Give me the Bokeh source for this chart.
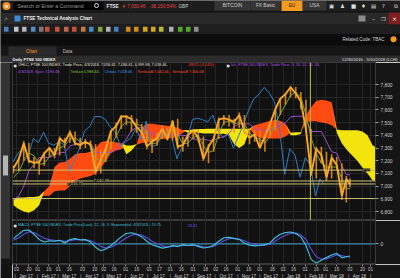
import numpy as np
import pandas as pd
from bokeh.plotting import figure
from bokeh.layouts import column, row
from bokeh.models import (Range1d, FixedTicker, NumeralTickFormatter, DatetimeTickFormatter,
                          DatetimeAxis, Label, Span, Grid)
from bokeh.core.properties import value
from bokeh.embed import file_html
from bokeh.resources import INLINE

FONT = "Liberation Sans"
SYM = "DejaVu Sans"

# ---------------- values (weekly samples) ----------------
price_dates = pd.DatetimeIndex(list(pd.date_range("2016-12-30", periods=65, freq="7D"))
                               + [pd.Timestamp("2018-03-29"), pd.Timestamp("2018-04-03")])
close = [7143, 7210, 7338, 7198, 7184, 7188, 7258, 7300, 7244, 7374,
         7343, 7425, 7337, 7323, 7349, 7327, 7115, 7204, 7297, 7435,
         7471, 7548, 7548, 7527, 7464, 7424, 7313, 7350, 7378, 7453,
         7368, 7511, 7310, 7324, 7401, 7438, 7378, 7215, 7311, 7373,
         7523, 7535, 7523, 7505, 7560, 7433, 7380, 7409, 7300, 7394,
         7490, 7603, 7688, 7724, 7778, 7731, 7666, 7443, 7092, 7294,
         7244, 7070, 7224, 7164, 6922, 7057, 7018]
high = [7160, 7220, 7355, 7340, 7230, 7210, 7270, 7310, 7300, 7390,
        7380, 7440, 7430, 7380, 7370, 7360, 7330, 7290, 7300, 7440,
        7500, 7560, 7560, 7560, 7530, 7490, 7440, 7380, 7420, 7480,
        7460, 7520, 7530, 7390, 7420, 7450, 7450, 7390, 7330, 7380,
        7540, 7560, 7560, 7530, 7580, 7560, 7440, 7440, 7440, 7400,
        7500, 7610, 7690, 7730, 7790, 7780, 7740, 7680, 7450, 7310,
        7310, 7270, 7250, 7230, 7180, 7080, 7060]
low = [7100, 7120, 7200, 7180, 7140, 7090, 7160, 7230, 7220, 7240,
       7300, 7340, 7320, 7290, 7300, 7310, 7090, 7100, 7190, 7290,
       7380, 7450, 7480, 7430, 7420, 7410, 7290, 7260, 7320, 7370,
       7360, 7360, 7290, 7270, 7310, 7370, 7350, 7200, 7180, 7270,
       7370, 7480, 7470, 7420, 7460, 7410, 7330, 7350, 7300, 7270,
       7380, 7440, 7560, 7640, 7700, 7690, 7610, 7430, 7080, 7060,
       7180, 7040, 7060, 7130, 6890, 6870, 6990]
chikou = [7188, 7258, 7300, 7244, 7374, 7343, 7425, 7337, 7323, 7349,
          7327, 7115, 7204, 7297, 7435, 7471, 7548, 7548, 7527, 7464,
          7424, 7313, 7350, 7378, 7453, 7368, 7511, 7310, 7324, 7401,
          7438, 7378, 7215, 7311, 7373, 7523, 7535, 7523, 7505, 7560,
          7433, 7380, 7409, 7300, 7394, 7490, 7603, 7688, 7724, 7778,
          7731, 7666, 7443, 7092, 7294, 7244, 7070, 7224, 7164, 6922,
          7057, 7018]
tenkan = [7070, 7110, 7200, 7260, 7240, 7170, 7180, 7230, 7265, 7300,
          7320, 7370, 7380, 7350, 7335, 7335, 7220, 7200, 7200, 7320,
          7390, 7470, 7505, 7500, 7490, 7470, 7400, 7335, 7340, 7400,
          7410, 7440, 7410, 7330, 7340, 7380, 7400, 7320, 7265, 7280,
          7410, 7500, 7515, 7490, 7500, 7490, 7420, 7385, 7370, 7340,
          7390, 7490, 7570, 7640, 7715, 7740, 7700, 7560, 7380, 7260,
          7180, 7150, 7150, 7150, 7060, 6980, 6980]
kijun = [6890, 6920, 7000, 7120, 7170, 7225, 7225, 7225, 7245, 7265,
         7265, 7315, 7330, 7340, 7340, 7340, 7265, 7265, 7265, 7265,
         7290, 7325, 7370, 7440, 7460, 7460, 7430, 7410, 7410, 7410,
         7410, 7400, 7400, 7400, 7395, 7370, 7370, 7370, 7360, 7360,
         7380, 7390, 7415, 7470, 7490, 7490, 7490, 7455, 7440, 7440,
         7440, 7455, 7480, 7500, 7545, 7550, 7550, 7530, 7430, 7430,
         7430, 7350, 7270, 7260, 7160, 7090, 7090]
cloud_dates = pd.date_range("2016-12-30", periods=72, freq="7D")
senkou_a = [6850, 6820, 6800, 6790, 6810, 6850, 6960, 7000, 7150, 7185,
            7190, 7215, 7250, 7260, 7260, 7270, 7300, 7345, 7355, 7350,
            7345, 7335, 7250, 7280, 7330, 7460, 7490, 7490, 7485, 7480,
            7475, 7470, 7460, 7440, 7420, 7430, 7420, 7415, 7415, 7415,
            7410, 7412, 7400, 7330, 7300, 7330, 7440, 7480, 7490, 7500,
            7515, 7520, 7515, 7490, 7400, 7400, 7410, 7560, 7620, 7670,
            7680, 7675, 7660, 7420, 7335, 7285, 7240, 7200, 7146, 7100,
            7044, 7042]
senkou_b = [6905, 6910, 6910, 6915, 6915, 6920, 6925, 6925, 6960, 6965,
            6965, 7000, 7040, 7060, 7070, 7080, 7100, 7140, 7200, 7260,
            7280, 7290, 7320, 7320, 7325, 7340, 7345, 7350, 7360, 7370,
            7375, 7380, 7390, 7420, 7440, 7445, 7450, 7450, 7452, 7452,
            7452, 7452, 7452, 7452, 7452, 7452, 7452, 7400, 7380, 7375,
            7375, 7375, 7375, 7390, 7420, 7425, 7425, 7505, 7510, 7510,
            7500, 7495, 7480, 7445, 7440, 7440, 7440, 7440, 7430, 7400,
            7320, 7300]
macd = [30, 55, 78, 80, 55, 25, 10, 18, 15, 20,
        5, 25, 30, 22, 24, 10, -20, -40, -30, -10,
        15, 40, 60, 64, 55, 40, 15, -5, -15, -25,
        -20, -10, -15, -5, -10, -5, -15, -24, -20, -10,
        15, 35, 38, 30, 25, 5, -8, -12, -10, -5,
        5, 35, 55, 65, 68, 60, 40, -10, -90, -112,
        -95, -80, -65, -55, -82, -75, -71]
signal = [20, 35, 55, 70, 65, 48, 32, 24, 20, 19,
          14, 18, 24, 24, 24, 18, 4, -15, -25, -20,
          -5, 15, 35, 50, 55, 50, 35, 15, 0, -12,
          -18, -15, -14, -10, -10, -8, -10, -17, -19, -15,
          0, 18, 30, 32, 28, 18, 5, -5, -9, -8,
          -2, 15, 35, 50, 60, 62, 52, 25, -30, -75,
          -90, -86, -76, -64, -70, -74, -76]

support_levels = [7126.0, 7040.48, 7016.74, 6902.0]
support_texts = ["7,12", "7,040.48", "7,016.74"]
crosshair_day = "2018-02-08"
price_ticks = list(range(6800, 7900, 100))
day_ticks = ["2017-01-03", "2017-01-20", "2017-02-01", "2017-02-16", "2017-03-01", "2017-03-16",
             "2017-04-03", "2017-04-20", "2017-05-02", "2017-05-16", "2017-06-01", "2017-06-16",
             "2017-07-03", "2017-07-17", "2017-08-01", "2017-08-16", "2017-09-01", "2017-09-18",
             "2017-10-02", "2017-10-16", "2017-11-01", "2017-11-16", "2017-12-01", "2017-12-18",
             "2018-01-02", "2018-01-16", "2018-02-01", "2018-02-16", "2018-03-01", "2018-03-16",
             "2018-04-03", "2018-04-20", "2018-05-01"]
month_starts = pd.date_range("2017-01-01", "2018-05-01", freq="MS")

price_tags = [("7,300.08", "#e8421c", "#ffffff"), ("7,090.48", "#b64de6", "#ffffff"),
              ("7,042.46", "#e8421c", "#ffffff"), ("7,018.46", "#f2a11f", "#1a1a1a"),
              ("7,010.46", "#2f8fe6", "#ffffff"), ("6,980.44", "#72c232", "#1a1a1a")]
macd_tags = [("-70.75", "#3ad6f5", "#0a2030"), ("-76.41", "#5a3ee8", "#ffffff"),
             ("-101.5", "#555555", "#e0e0e0")]


def ms(d):
    return float(pd.Timestamp(d).value // 1_000_000)


day_ms = [ms(d) for d in day_ticks]
month_start_ms = [ms(d) for d in month_starts]
month_mid_ms = [ms(d + pd.Timedelta(days=15)) for d in month_starts]
month_overrides = {}
for s, mid, d in zip(month_start_ms, month_mid_ms, month_starts):
    month_overrides[s] = "|"
    month_overrides[mid] = d.strftime("%b %y")
chikou_dates = price_dates[5:] - pd.Timedelta(days=36)

xr = Range1d(start=ms("2016-12-28 15:00"), end=ms("2018-05-07 20:00"))

BG = "#111111"
BORDER = "#151515"
GRID = "#262626"


def py(gy):      # canvas row of the price panel -> price units (annotation placement)
    return 7800 - (gy - 84) * 7.874


MACD_TOP, MACD_BOT, MACD_H = 135, -120, 44.0


def my(gy):      # canvas row of the MACD panel -> MACD units
    return MACD_TOP - (gy - 220) * (MACD_TOP - MACD_BOT) / MACD_H


def lab(fig, gx, y, t, color, size="3.8px", bold=False, bg=None, align="left", font=FONT):
    fig.add_layout(Label(x=gx - 12, y=y, x_units="screen", y_units="data", text=t,
                         text_color=color, text_font=font, text_font_size=size,
                         text_font_style="bold" if bold else "normal", text_align=align,
                         text_baseline="middle", background_fill_color=bg,
                         background_fill_alpha=1.0))


# ---------------- chrome (terminal window) ----------------
ch = figure(width=400, height=62, x_range=Range1d(0, 400), y_range=Range1d(62, 0),
            x_axis_location=None, y_axis_location=None, toolbar_location=None,
            output_backend="svg", min_border=0, background_fill_color="#0e0e0e",
            border_fill_color="#0e0e0e", outline_line_color=None)
ch.grid.visible = False

boxes = [(0, 400, 0, 11, "#1d1d1d"), (13, 103, 1.5, 9.5, "#000000"),
         (214, 249.5, 0.5, 10, "#353535"), (250, 280, 0.5, 10, "#353535"),
         (281, 302, 0, 10.5, "#f39b1f"), (302.5, 326, 0.5, 10, "#353535"),
         (0, 400, 12, 24, "#292929"), (388, 400, 12, 24, "#7d1f1f"),
         (358, 365, 15, 21, "#8c8c8c"), (14, 20, 15, 21, "#3b8bd4"),
         (0, 400, 24, 33.5, "#1e1e1e"), (0, 400, 33.5, 45, "#0c0c0c"),
         (0, 400, 45, 55, "#161616"), (8, 56, 46, 55, "#2a2a2a"),
         (0, 400, 55, 62, "#2c2c2c")]
for l, r, t, b, c in boxes:
    ch.quad(left=[l], right=[r], top=[t], bottom=[b], fill_color=c, line_color=None)

icon_x = [3, 13, 21, 30, 38, 44, 54, 63, 71, 80, 88, 97, 105, 113, 125, 133, 142, 150, 158,
          168, 177, 185, 193]
icon_c = ["#4a90d9", "#d8e4f0", "#c8d0d8", "#5aa0e0", "#888888", "#e05a3a", "#e05a3a",
          "#e07050", "#e05a3a", "#e08a40", "#4aa0e0", "#8ac040", "#cccccc", "#4a90d9",
          "#f0a020", "#f0a020", "#f0c020", "#f0c020", "#d0d040", "#c0c8d0", "#60c030",
          "#60c030", "#a0a0a0"]
for x, c in zip(icon_x, icon_c):
    ch.quad(left=[x + 0.5], right=[x + 5], top=[26.3], bottom=[31.2], fill_color=c,
            line_color=None, fill_alpha=0.85)

ch.scatter(x=[6], y=[5.5], size=8, marker="circle", fill_color="#f08a1c", line_color=None)
ch.scatter(x=[96], y=[5], size=4, marker="circle", fill_color=None, line_color="#dddddd")
ch.scatter(x=[393], y=[38.8], size=6, marker="circle", fill_color="#f39b1f", line_color=None)


def ctext(x, y, t, color, size="4.6px", style="normal", align="left", font=FONT):
    ch.text(x=[x], y=[y], text=[t], text_color=color, text_font=value(font),
            text_font_size=value(size), text_font_style=style, text_align=align,
            text_baseline="middle")


ctext(6, 5.6, "≡", "#ffffff", "5px", "bold", "center", SYM)
ctext(17, 5.6, "Search or Enter a Command", "#9a9a9a", "5.2px")
ctext(106, 5.6, "FTSE", "#e6e6e6", "4.8px", "bold")
ctext(121, 5.6, "▼ 7,030.46", "#e84040", "4.6px")
ctext(149, 5.6, "-38.15", "#e84040", "4.6px")
ctext(161, 5.6, "-0.54%", "#e84040", "4.6px")
ctext(178, 5.6, "GBP", "#cfcfcf", "4.6px")
ctext(232, 5.4, "BITCOIN", "#cfcfcf", "4.8px", "normal", "center")
ctext(265, 5.4, "FX Basic", "#cfcfcf", "4.8px", "normal", "center")
ctext(291.5, 5.4, "EU", "#1a1a1a", "4.8px", "normal", "center")
ctext(314, 5.4, "USA", "#cfcfcf", "4.8px", "normal", "center")
for x, s in zip([331, 342, 353, 363, 373, 383, 395], ["▣", "♟", "■", "♦", "▤", "?", "⧉"]):
    ctext(x, 5.4, s, "#dddddd", "5.5px", "normal", "center", SYM)
ctext(5, 18, "↗", "#9a9a9a", "5.5px", "normal", "center", SYM)
ctext(23, 18, "FTSE Technical Analysis Chart", "#f2f2f2", "4.7px", "bold")
ctext(373, 18, "–", "#dddddd", "5.5px", "normal", "center", SYM)
ctext(383, 18, "❐", "#dddddd", "5px", "normal", "center", SYM)
ctext(394, 18, "×", "#ffffff", "6px", "normal", "center", SYM)
ctext(342, 38.8, "Related Code: TBAC", "#d4d4d4", "4.5px")
ctext(31, 50.5, "Chart", "#f39b1f", "4.6px", "normal", "center")
ctext(67, 50.5, "Data", "#bbbbbb", "4.6px", "normal", "center")
ctext(12, 58.6, "Daily FTSE 100 INDEX", "#f4f4f4", "4.1px", "bold")
ctext(397, 58.6, "12/30/2016 - 5/10/2018 (LCH)", "#e0e0e0", "4.2px", "normal", "right")

# ---------------- left scroll strip ----------------
sc = figure(width=12, height=216, x_range=Range1d(0, 12), y_range=Range1d(216, 0),
            x_axis_location=None, y_axis_location=None, toolbar_location=None,
            output_backend="svg", min_border=0, background_fill_color="#141414",
            border_fill_color="#141414", outline_line_color=None)
sc.grid.visible = False
sc.quad(left=[0.5], right=[9.5], top=[0], bottom=[196], fill_color="#333333", line_color=None)
sc.quad(left=[2.5], right=[7.5], top=[93], bottom=[113], fill_color="#b5b5b5", line_color=None)


def style_right_axis(ax):
    ax.major_label_text_font = FONT
    ax.major_label_text_font_size = "4.8px"
    ax.major_label_text_color = "#d0d0d0"
    ax.major_tick_out = 3
    ax.major_tick_in = 0
    ax.minor_tick_line_color = None
    ax.major_tick_line_color = "#9a9a9a"
    ax.axis_line_color = "#3a3a3a"
    ax.major_label_standoff = 2


# ---------------- price panel ----------------
p = figure(width=388, height=158, x_range=xr, y_range=Range1d(py(220), py(62)),
           x_axis_type="datetime", x_axis_location=None, y_axis_location="right",
           toolbar_location=None, output_backend="svg", title=None,
           min_border_left=0, min_border_right=25, min_border_top=0, min_border_bottom=0,
           background_fill_color=BG, border_fill_color=BORDER, outline_line_color="#3a3a3a")
p.xgrid.visible = False
p.add_layout(Grid(dimension=0, ticker=FixedTicker(ticks=day_ms), grid_line_color=GRID))
p.ygrid.grid_line_color = GRID
p.yaxis.ticker = FixedTicker(ticks=price_ticks)
p.yaxis.formatter = NumeralTickFormatter(format="0,0")
style_right_axis(p.yaxis[0])

a_arr = np.array(senkou_a, dtype=float)
b_arr = np.array(senkou_b, dtype=float)
top_arr = np.maximum(a_arr, b_arr)
p.varea(x=cloud_dates, y1=b_arr, y2=top_arr, fill_color="#ff4a12", fill_alpha=1.0)
p.varea(x=cloud_dates, y1=a_arr, y2=top_arr, fill_color="#f4e40e", fill_alpha=1.0)

p.line(x=chikou_dates, y=chikou, line_color="#2f7fc6", line_width=1)
p.line(x=price_dates, y=kijun, line_color="#9b4dca", line_width=1)
p.line(x=price_dates, y=tenkan, line_color="#6fa83a", line_width=1)
p.segment(x0=price_dates, y0=low, x1=price_dates, y1=high, line_color="#e0901c",
          line_width=1.6, line_alpha=0.9)
p.line(x=price_dates, y=close, line_color="#f7a824", line_width=1.9)

for lvl in support_levels:
    p.add_layout(Span(location=lvl, dimension="width", line_color="#cbbf72", line_width=1))
p.add_layout(Span(location=ms(crosshair_day), dimension="height", line_color="#c9c13a",
                  line_width=1))

lab(p, 362, support_levels[0], support_texts[0], "#d8cf90", "4px", False, "#1b1b1b")
lab(p, 93, support_levels[1], support_texts[1], "#d8cf90", "4px", False, "#1b1b1b")
lab(p, 67, support_levels[2], support_texts[2], "#d8cf90", "4px", False, "#1b1b1b")

# legend rows
lab(p, 13, py(64.5), "●", "#d8d8d8", "3.8px", font=SYM)
lab(p, 17.5, py(64.5), "OHLC, FTSE 100 INDEX, Trade Price, 4/3/2018, 7,056.61, 7,036.61, "
    "6,999.98, 7,018.46,", "#ece6da")
lab(p, 187, py(64.5), "-38.15 (-0.54%)", "#ff3a2a")
lab(p, 226, py(64.5), "●", "#d8d8d8", "3.8px", font=SYM)
lab(p, 230.5, py(64.5), "Ich, FTSE 100 INDEX, Trade Price,  9, 26, 52, 26, 26,", "#b452e6")
lab(p, 17.5, py(71), "4/3/2018, Kijun 7,090.48,", "#b452e6")
lab(p, 70, py(71), "Tenkan 6,988.44,", "#86c43c")
lab(p, 104, py(71), "Chikou 7,018.46,", "#3d92e8")
lab(p, 137, py(71), "SenkouA 7,042.46,", "#ff4a2a")
lab(p, 172, py(71), "SenkouB 7,300.08", "#ff4a2a")

# right margin
lab(p, 384, py(65.5), "\u00a0\u00a0", "#ffffff", "4px", bg="#7a7a7a")
lab(p, 392, py(65.5), "×", "#ffffff", "4.5px", bg="#8a2a2a", font=SYM)
lab(p, 377, py(72), "Price", "#e8e8e8", "4.4px")
lab(p, 377, py(78), "GBP", "#e8e8e8", "4.4px")
tag_rows = [147, 173, 177.3, 181.6, 186, 190.3]
for (t, bg, fg), gy in zip(price_tags, tag_rows):
    lab(p, 376.5, py(gy), "\u00a0" + t + "\u00a0\u00a0", fg, "4.1px", bg=bg)
lab(p, 376.5, py(217.5), "\u00a06,812\u00a0\u00a0\u00a0", "#e0e0e0", "4.1px", bg="#555555")

# ---------------- MACD panel ----------------
m = figure(width=388, height=44, x_range=xr, y_range=Range1d(MACD_BOT, MACD_TOP),
           x_axis_type="datetime", x_axis_location=None, y_axis_location="right",
           toolbar_location=None, output_backend="svg", title=None,
           min_border_left=0, min_border_right=25, min_border_top=0, min_border_bottom=0,
           background_fill_color=BG, border_fill_color=BORDER, outline_line_color="#3a3a3a")
m.xgrid.visible = False
m.add_layout(Grid(dimension=0, ticker=FixedTicker(ticks=day_ms), grid_line_color=GRID))
m.ygrid.visible = False
m.yaxis.ticker = FixedTicker(ticks=[0])
style_right_axis(m.yaxis[0])

m.add_layout(Span(location=0, dimension="width", line_color="#3a8eaa", line_width=1.3,
                  level="underlay"))
m.line(x=price_dates, y=signal, line_color="#5b4fe0", line_width=1.1)
m.line(x=price_dates, y=macd, line_color="#3ec6e0", line_width=1.1)

lab(m, 13, my(224.5), "●", "#d8d8d8", "3.8px", font=SYM)
lab(m, 17.5, my(224.5), "MACD, FTSE 100 INDEX, Trade Price(Last), 12, 26, 9, Exponential, "
    "4/3/2018, -70.75,", "#3fc0d8")
lab(m, 186, my(224.5), "-76.41", "#6a5cf0")
lab(m, 384, my(223.5), "\u00a0\u00a0", "#ffffff", "4px", bg="#7a7a7a")
lab(m, 392, my(223.5), "×", "#ffffff", "4.5px", bg="#8a2a2a", font=SYM)
lab(m, 377, my(230), "Value", "#e8e8e8", "4.4px")
lab(m, 377, my(235.5), "GBP", "#e8e8e8", "4.4px")
for (t, bg, fg), gy in zip(macd_tags, [251.5, 256.5, 261.3]):
    lab(m, 376.5, my(gy), "\u00a0" + t + "\u00a0\u00a0\u00a0", fg, "4.1px", bg=bg)

# ---------------- date axis strip ----------------
ax = figure(width=388, height=14, x_range=xr, y_range=Range1d(0, 1),
            x_axis_type="datetime", x_axis_location="below", y_axis_location=None,
            toolbar_location=None, output_backend="svg", title=None,
            min_border_left=0, min_border_right=25, min_border_top=0, min_border_bottom=0,
            background_fill_color=BORDER, border_fill_color=BORDER, outline_line_color=None)
ax.grid.visible = False
dax = ax.xaxis[0]
dax.ticker = FixedTicker(ticks=day_ms)
dax.formatter = DatetimeTickFormatter(days="%d", months="%d", years="%d",
                                      strip_leading_zeros=False)
dax.major_label_text_font = FONT
dax.major_label_text_font_size = "4.5px"
dax.major_label_text_color = "#c8c8c8"
dax.major_tick_out = 2
dax.major_tick_in = 0
dax.minor_tick_line_color = None
dax.minor_tick_out = 0
dax.major_tick_line_color = "#8a8a8a"
dax.axis_line_color = "#3a3a3a"
dax.major_label_standoff = 0

max_ = DatetimeAxis(ticker=FixedTicker(ticks=sorted(month_start_ms + month_mid_ms)),
                    formatter=DatetimeTickFormatter(days="%b %y", months="%b %y",
                                                    years="%b %y", strip_leading_zeros=False),
                    major_label_overrides=month_overrides)
max_.major_label_text_font = FONT
max_.major_label_text_font_size = "4.5px"
max_.major_label_text_color = "#d8d8d8"
max_.major_tick_out = 0
max_.major_tick_in = 0
max_.major_tick_line_color = None
max_.minor_tick_out = 0
max_.minor_tick_in = 0
max_.minor_tick_line_color = None
max_.axis_line_color = None
max_.major_label_standoff = 0
ax.add_layout(max_, "below")

layout = column(ch, row(sc, column(p, m, ax)))
open("out.html", "w").write(file_html(layout, INLINE))
